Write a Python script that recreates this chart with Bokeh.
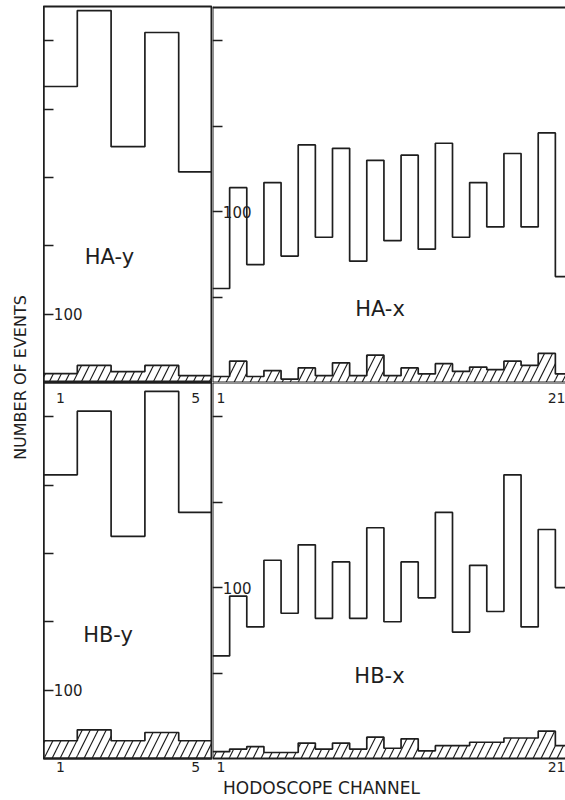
import math
from bokeh.plotting import figure
from bokeh.models import Range1d, LinearAxis, FixedTicker, Label
from bokeh.layouts import row, column
from bokeh.embed import file_html
from bokeh.resources import INLINE

# ---------------- data ----------------
y_channels = [1, 2, 3, 4, 5]
x_channels = list(range(1, 22))

ha_y_counts = [433, 544, 345, 512, 308]
ha_y_background = [13, 25, 16, 25, 10]
hb_y_counts = [415, 508, 325, 537, 360]
hb_y_background = [26, 42, 26, 38, 26]

ha_x_counts = [55, 114, 69, 117, 74, 139, 85, 137, 71, 130, 83,
               133, 78, 140, 85, 117, 91, 134, 91, 146, 62]
ha_x_background = [3.5, 12.5, 3.5, 7, 2, 8.5, 4, 11.5, 4, 16, 4,
                   8.5, 5, 11, 6.5, 9, 7.5, 12.5, 10, 17, 5]
hb_x_counts = [60, 95, 77, 116, 85, 125, 82, 115, 82, 135, 80,
               115, 94, 144, 74, 113, 86, 166, 77, 134, 100]
hb_x_background = [4, 5.5, 7, 3.5, 3.5, 9, 5.5, 9, 5.5, 12.5, 6,
                   11.5, 4.5, 7.5, 7.5, 9.5, 9.5, 12, 12, 16, 7.5]

y_labelled_ticks = [100]
y_panel_minor_ticks = [200, 300, 400, 500]
x_panel_minor_ticks = [50, 150, 200]
y_panel_x_ticks = [1, 5]
x_panel_x_ticks = [1, 21]

panel_names = ["HA-y", "HA-x", "HB-y", "HB-x"]
y_title = "NUMBER OF EVENTS"
x_title = "HODOSCOPE CHANNEL"

# ---------------- styling ----------------
INK = "#1e1e1e"
FONT = "DejaVu Sans"


def make_panel(channels, counts, background, x_end, y_end, minor, fw, fh,
               top_border, bottom_border, outline, name, name_x, name_y):
    p = figure(frame_width=fw, frame_height=fh,
               x_range=Range1d(0.5, x_end), y_range=Range1d(0, y_end),
               x_axis_type=None, y_axis_type=None,
               output_backend="svg", toolbar_location=None,
               min_border_left=0, min_border_right=0,
               min_border_top=top_border, min_border_bottom=bottom_border)
    p.background_fill_color = "white"
    p.border_fill_color = "white"
    p.outline_line_color = INK if outline else None
    p.outline_line_width = 2

    yax = LinearAxis(ticker=FixedTicker(ticks=y_labelled_ticks, minor_ticks=minor),
                     fixed_location=0.5)
    yax.axis_line_color = INK
    yax.axis_line_width = 2
    yax.major_tick_in = 10
    yax.major_tick_out = 0
    yax.minor_tick_in = 10
    yax.minor_tick_out = 0
    yax.major_tick_line_color = INK
    yax.minor_tick_line_color = INK
    yax.major_tick_line_width = 1.5
    yax.minor_tick_line_width = 1.5
    yax.major_label_standoff = -39
    yax.major_label_text_font = FONT
    yax.major_label_text_font_size = "15px"
    yax.major_label_text_color = INK
    p.add_layout(yax, "left")

    edges = [c - 0.5 for c in channels] + [channels[-1] + 0.5]
    p.vbar(x=channels, width=1, bottom=0, top=background,
           fill_color=None, line_color=None,
           hatch_pattern="/", hatch_color=INK, hatch_scale=16, hatch_weight=1.2)
    p.step(x=edges, y=background + [background[-1]], mode="after",
           line_color=INK, line_width=1.7)
    p.step(x=edges, y=counts + [counts[-1]], mode="after",
           line_color=INK, line_width=1.7)

    p.add_layout(Label(x=name_x, y=name_y, text=name, text_align="center",
                       text_baseline="middle", text_font=FONT,
                       text_font_size="21px", text_color=INK))
    return p


def style_x_axis(ax, standoff, labels=True, line_width=2):
    ax.axis_line_color = INK
    ax.axis_line_width = line_width
    ax.major_tick_in = 0
    ax.major_tick_out = 0
    ax.minor_tick_in = 0
    ax.minor_tick_out = 0
    ax.major_label_standoff = standoff
    ax.major_label_text_font = FONT
    ax.major_label_text_font_size = "14px" if labels else "0px"
    ax.major_label_text_color = INK
    return ax


LEFT_W = 169
RIGHT_W = 353
ROW_H = 376
X_END_RIGHT = 0.5 + RIGHT_W / (360.0 / 21.0)

tl = make_panel(y_channels, ha_y_counts, ha_y_background, 5.5, 550,
                y_panel_minor_ticks, LEFT_W, ROW_H, 6, 0, True,
                panel_names[0], 2.45, 183)
tr = make_panel(x_channels, ha_x_counts, ha_x_background, X_END_RIGHT, 220,
                x_panel_minor_ticks, RIGHT_W, ROW_H, 6, 0, False,
                panel_names[1], 10.27, 43)
bl = make_panel(y_channels, hb_y_counts, hb_y_background, 5.5, 550,
                y_panel_minor_ticks, LEFT_W, ROW_H, 0, 20, True,
                panel_names[2], 2.41, 180)
br = make_panel(x_channels, hb_x_counts, hb_x_background, X_END_RIGHT, 220,
                x_panel_minor_ticks, RIGHT_W, ROW_H, 0, 20, False,
                panel_names[3], 10.24, 48)

# top and bottom edges of the open right-hand panels
tr.add_layout(style_x_axis(LinearAxis(ticker=FixedTicker(ticks=[]), fixed_location=220),
                           0, labels=False, line_width=4), "above")
tr.add_layout(style_x_axis(LinearAxis(ticker=FixedTicker(ticks=[]), fixed_location=0),
                           0, labels=False, line_width=2), "below")
# channel numbers of the upper panels, printed just under their base line
bl.add_layout(style_x_axis(LinearAxis(ticker=FixedTicker(ticks=y_panel_x_ticks),
                                      fixed_location=550), -20), "above")
br.add_layout(style_x_axis(LinearAxis(ticker=FixedTicker(ticks=x_panel_x_ticks),
                                      fixed_location=220), -20), "above")
# channel numbers of the lower panels
bl.add_layout(style_x_axis(LinearAxis(ticker=FixedTicker(ticks=y_panel_x_ticks)), 3), "below")
br.add_layout(style_x_axis(LinearAxis(ticker=FixedTicker(ticks=x_panel_x_ticks)), 3), "below")

GRID_H = 6 + ROW_H + ROW_H + 20

ylab = figure(frame_width=43, frame_height=GRID_H,
              x_range=Range1d(0, 43), y_range=Range1d(GRID_H, 0),
              x_axis_type=None, y_axis_type=None, min_border=0,
              output_backend="svg", toolbar_location=None)
ylab.outline_line_color = None
ylab.add_layout(Label(x=20, y=377, text=y_title, angle=math.pi / 2,
                      text_align="center", text_baseline="middle",
                      text_font=FONT, text_font_size="16px", text_color=INK))

XLAB_H = 800 - GRID_H
xlab = figure(frame_width=565, frame_height=XLAB_H,
              x_range=Range1d(0, 565), y_range=Range1d(XLAB_H, 0),
              x_axis_type=None, y_axis_type=None, min_border=0,
              output_backend="svg", toolbar_location=None)
xlab.outline_line_color = None
xlab.add_layout(Label(x=321, y=9, text=x_title,
                      text_align="center", text_baseline="middle",
                      text_font=FONT, text_font_size="17px", text_color=INK))

grid = column(row(tl, tr), row(bl, br))
page = column(row(ylab, grid), xlab)

open("out.html", "w").write(file_html(page, INLINE))
